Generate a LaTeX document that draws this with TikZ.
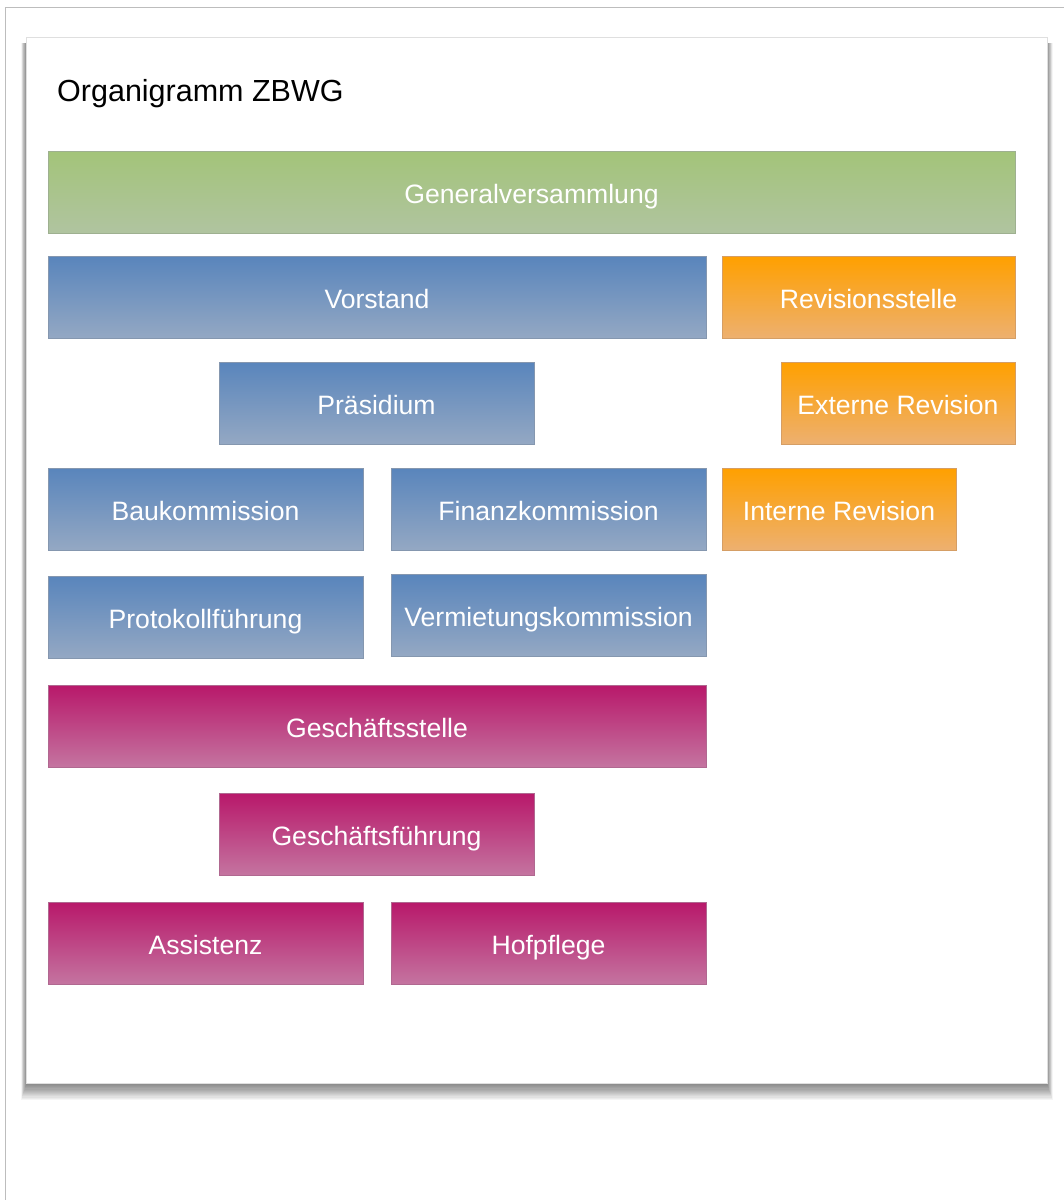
\documentclass[tikz,border=0pt]{standalone}
\usepackage{fontspec}
\setmainfont{Liberation Sans}
\definecolor{gtop}{HTML}{A3C479}
\definecolor{gmid}{HTML}{A6C582}
\definecolor{gbot}{HTML}{B0C4A0}
\definecolor{btop}{HTML}{5985BC}
\definecolor{bmid}{HTML}{6E92C0}
\definecolor{bbot}{HTML}{94A8C3}
\definecolor{mtop}{HTML}{B8186A}
\definecolor{mmid}{HTML}{BA3A7C}
\definecolor{mbot}{HTML}{C474A0}
\definecolor{otop}{HTML}{FFA000}
\definecolor{omid}{HTML}{F8A434}
\definecolor{obot}{HTML}{EDB070}
\definecolor{framegray}{HTML}{BDBDBD}
\tikzset{
  box/.style={rectangle, inner sep=0pt, outer sep=0pt, text=white,
    font=\fontsize{26.6}{30}\selectfont, anchor=center, text height=24pt, text depth=2pt},
  greenbox/.style={box, top color=gtop, middle color=gmid, bottom color=gbot, draw=gbot!90!black, line width=0.4pt},
  bluebox/.style={box, top color=btop, middle color=bmid, bottom color=bbot, draw=bbot!90!black, line width=0.4pt},
  magbox/.style={box, top color=mtop, middle color=mmid, bottom color=mbot, draw=mbot!90!black, line width=0.4pt},
  orabox/.style={box, top color=otop, middle color=omid, bottom color=obot, draw=obot!90!black, line width=0.4pt},
  wide/.style={minimum width=967pt, minimum height=82pt},
  half/.style={minimum width=658pt, minimum height=82pt},
  third/.style={minimum width=315pt, minimum height=82pt},
  rev/.style={minimum width=293pt, minimum height=82pt},
  revs/.style={minimum width=234pt, minimum height=82pt},
}
\begin{document}
\begin{tikzpicture}[x=1pt,y=-1pt]
\useasboundingbox (0,0) rectangle (1064,1200);
\fill[white] (0,0) rectangle (1064,1200);
% outer frame
\draw[framegray, line width=1pt] (5,1200) -- (5,7) -- (1064,7);
% card shadow (layered)
\foreach \i in {1,...,14} {
  \fill[black, opacity=0.04] ({26-5+\i*0.35},{37+6}) rectangle ({1047+6-\i*0.4},{1083+18-\i*1.15});
}
% card
\fill[white] (26,37) rectangle (1047,1083);
\draw[gray!25, line width=0.6pt] (26,37) rectangle (1047,1083);
% title
\node[anchor=base west, inner sep=0pt, font=\fontsize{30.5}{34}\selectfont] (title) at (57,101) {Organigramm ZBWG};
% boxes
\node[greenbox, wide] (gv) at (531.5,192) {Generalversammlung};
\node[bluebox, half] (vs) at (377,297.5) {Vorstand};
\node[orabox, rev] (rs) at (868.5,297.5) {Revisionsstelle};
\node[bluebox, third] (pr) at (376.5,403) {Präsidium};
\node[orabox, revs] (er) at (898,403) {Externe Revision};
\node[bluebox, third] (bk) at (205.5,509) {Baukommission};
\node[bluebox, third] (fk) at (548.5,509) {Finanzkommission};
\node[orabox, revs] (ir) at (839,509) {Interne Revision};
\node[bluebox, third] (pf) at (205.5,617) {Protokollführung};
\node[bluebox, third] (vk) at (548.5,615) {Vermietungskommission};
\node[magbox, half] (gs) at (377,726) {Geschäftsstelle};
\node[magbox, third] (gf) at (376.5,834) {Geschäftsführung};
\node[magbox, third] (as) at (205.5,943) {Assistenz};
\node[magbox, third] (hp) at (548.5,943) {Hofpflege};
\end{tikzpicture}
\end{document}
